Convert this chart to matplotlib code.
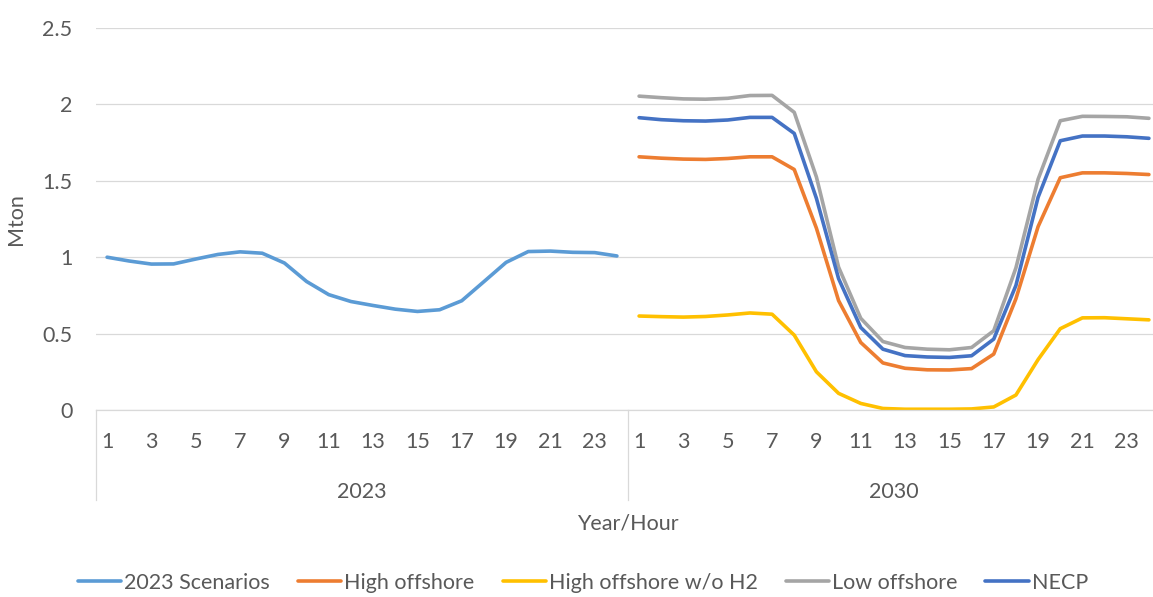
import numpy as np
import matplotlib
matplotlib.use("Agg")
import matplotlib.pyplot as plt
import matplotlib.transforms as mtransforms

plt.rcParams['font.family'] = ['Lato', 'DejaVu Sans']

# Category axis: hours within each year group
years = ["2023", "2030"]
hours = list(range(1, 25))

# Hourly values (Mton)
scenarios_2023 = [1.000, 0.975, 0.955, 0.956, 0.988, 1.018, 1.035, 1.026, 0.962, 0.841,
                  0.755, 0.710, 0.684, 0.660, 0.645, 0.656, 0.715, 0.840, 0.966, 1.037,
                  1.040, 1.032, 1.030, 1.008]
high_offshore = [1.657, 1.648, 1.642, 1.640, 1.646, 1.657, 1.657, 1.574, 1.190, 0.716,
                 0.442, 0.308, 0.273, 0.263, 0.262, 0.271, 0.366, 0.728, 1.200, 1.520,
                 1.552, 1.552, 1.548, 1.541]
high_offshore_no_h2 = [0.615, 0.611, 0.608, 0.612, 0.622, 0.635, 0.627, 0.490, 0.250, 0.109,
                       0.043, 0.010, 0.005, 0.005, 0.005, 0.007, 0.020, 0.098, 0.330, 0.532,
                       0.603, 0.604, 0.597, 0.590]
low_offshore = [2.054, 2.044, 2.036, 2.034, 2.040, 2.058, 2.059, 1.948, 1.525, 0.935,
                0.600, 0.448, 0.409, 0.398, 0.394, 0.409, 0.519, 0.930, 1.510, 1.893,
                1.922, 1.921, 1.919, 1.909]
necp = [1.913, 1.900, 1.893, 1.891, 1.898, 1.915, 1.915, 1.810, 1.385, 0.860,
        0.540, 0.398, 0.356, 0.347, 0.344, 0.355, 0.464, 0.815, 1.392, 1.762,
        1.793, 1.793, 1.788, 1.778]

series_names = ["2023 Scenarios", "High offshore", "High offshore w/o H2", "Low offshore", "NECP"]
series_colors = ["#5B9BD5", "#ED7D31", "#FFC000", "#A5A5A5", "#4472C4"]

GRID = "#D9D9D9"
TXT = "#595959"
FS = 15.5

W, H = 1153, 597
fig = plt.figure(figsize=(W / 100, H / 100), dpi=100)
ax_h = 382
ax = fig.add_axes([96 / W, 187 / H, (1160 - 96) / W, ax_h / H])

n = len(hours)
x_2023 = np.arange(n)
x_2030 = np.arange(n) + n

lw = 2.6
style = dict(linewidth=lw, solid_capstyle='round', solid_joinstyle='round')
ax.plot(x_2023, scenarios_2023, color=series_colors[0], label=series_names[0], **style)
ax.plot(x_2030, high_offshore, color=series_colors[1], label=series_names[1], **style)
ax.plot(x_2030, high_offshore_no_h2, color=series_colors[2], label=series_names[2], **style)
ax.plot(x_2030, low_offshore, color=series_colors[3], label=series_names[3], **style)
ax.plot(x_2030, necp, color=series_colors[4], label=series_names[4], **style)

ax.set_xlim(-0.5, 2 * n - 0.5)
ax.set_ylim(0, 2.5)

# y axis
yt = np.arange(0, 2.51, 0.5)
ax.set_yticks(yt)
ax.set_yticklabels([f"{v:g}" for v in yt])
ax.tick_params(axis='y', length=0, pad=17, labelsize=FS, labelcolor=TXT)
ax.grid(axis='y', color=GRID, linewidth=0.9)
ax.set_axisbelow(True)
ax.set_ylabel("Mton", fontsize=FS, color=TXT, labelpad=12)

# x axis: odd hours on the first level
all_hours = hours + hours
tick_pos = [i for i, h in enumerate(all_hours) if h % 2 == 1]
ax.set_xticks(tick_pos)
ax.set_xticklabels([str(all_hours[i]) for i in tick_pos])
ax.tick_params(axis='x', length=0, pad=16, labelsize=FS, labelcolor=TXT)

# second level: year groups
ax.set_xticks([n / 2 - 0.5, n + n / 2 - 0.5], minor=True)
ax.set_xticklabels(years, minor=True)
ax.tick_params(axis='x', which='minor', length=0, pad=52, labelsize=FS, labelcolor=TXT)

ax.set_xlabel("Year/Hour", fontsize=FS, color=TXT)
ax.xaxis.set_label_coords(0.5, -(523 - 410) / ax_h)
ax.xaxis.label.set_va('center')

for s in ['top', 'right', 'left']:
    ax.spines[s].set_visible(False)
ax.spines['bottom'].set_color(GRID)
ax.spines['bottom'].set_linewidth(0.9)

# group separators below the axis
trans = mtransforms.blended_transform_factory(ax.transData, ax.transAxes)
for xb in [-0.5, n - 0.5, 2 * n - 0.5]:
    ax.plot([xb, xb], [0, -90 / ax_h], color=GRID, linewidth=0.9,
            transform=trans, clip_on=False)

fig.legend(loc='center', bbox_to_anchor=(583 / W, 1 - 583 / H), ncol=5, frameon=False,
           fontsize=FS, labelcolor=TXT, handlelength=2.0, handletextpad=0.15,
           columnspacing=1.3)

fig.savefig("out.png", dpi=100)
